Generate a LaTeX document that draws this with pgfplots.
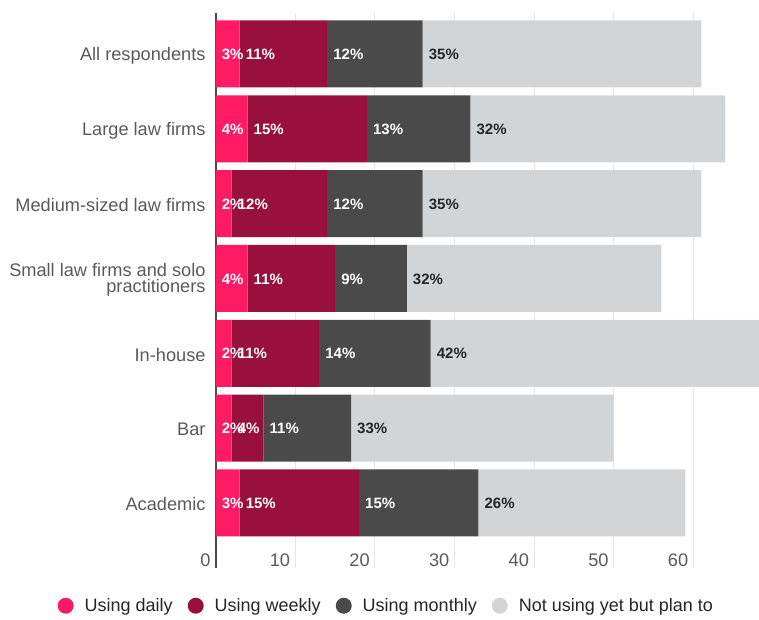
\documentclass[border=0pt]{standalone}
\usepackage{fontspec}
\setmainfont{Liberation Sans}
\usepackage{pgfplots}
\usepackage{pgfplotstable}
\pgfplotsset{compat=1.18}
\definecolor{cdaily}{HTML}{FF1A66}
\definecolor{cweekly}{HTML}{990F3D}
\definecolor{cmonthly}{HTML}{4A4A4A}
\definecolor{cnot}{HTML}{D3D4D6}
\definecolor{cgrid}{HTML}{E6E6E6}
\definecolor{ctext}{HTML}{5A5A5A}
\definecolor{clabel}{HTML}{262626}

% cat: 0 All respondents ... 6 Academic
% d,w,m,n = values; sd,sw,sm,sn = start of each segment
\pgfplotstableread{
cat d w m n sd sw sm sn
0 3 11 12 35 0 3 14 26
1 4 15 13 32 0 4 19 32
2 2 12 12 35 0 2 14 26
3 4 11 9 32 0 4 15 24
4 2 11 14 42 0 2 13 27
5 2 4 11 33 0 2 6 17
6 3 15 15 26 0 3 18 33
}\data

\pgfplotsset{base/.style={
  scale only axis, width=543.3pt, height=555pt,
  xmin=0, xmax=68.25, ymin=-0.548, ymax=6.87, y dir=reverse,
  at={(215.7pt,52pt)}, anchor=south west,
  /pgf/number format/assume math mode=true}}

\newcommand{\tickfont}{\fontsize{18.2}{16}\selectfont}
\newcommand{\legfont}{\fontsize{18}{18}\selectfont}
\newcommand{\barfont}{\fontsize{15}{15}\selectfont\bfseries}

\begin{document}
\begin{tikzpicture}
\useasboundingbox (0,0) rectangle (759pt,620pt);
\begin{axis}[base,
  xbar stacked, bar width=67pt,
  axis line style={draw=none},
  major tick length=0pt,
  xtick={10,20,...,60},
  extra x ticks={0},
  extra x tick style={grid style={draw=cmonthly, line width=2pt}},
  xmajorgrids, grid style={draw=cgrid, line width=1pt},
  ytick={0,...,6},
  yticklabels={All respondents, Large law firms, Medium-sized law firms, {Small law firms and solo\\practitioners}, In-house, Bar, Academic},
  yticklabel style={align=right, font=\tickfont, text=ctext, inner sep=0pt, xshift=-10pt, yshift=-1.5pt},
  xticklabel style={anchor=south east, font=\tickfont, text=ctext, inner sep=0pt, xshift=-5pt, yshift=1pt},
  legend columns=4,
  legend style={at={(0.314,-0.068)}, anchor=center, draw=none, font=\legfont, text=clabel,
    /tikz/every odd column/.append style={column sep=9pt},
    /tikz/every even column/.append style={column sep=13pt}},
]
\addplot[fill=cdaily, draw=none, legend image code/.code={\fill[cdaily] (0pt,0pt) circle (8pt);}] table[x=d, y=cat] {\data};
\addlegendentry{Using daily}
\addplot[fill=cweekly, draw=none, legend image code/.code={\fill[cweekly] (0pt,0pt) circle (8pt);}] table[x=w, y=cat] {\data};
\addlegendentry{Using weekly}
\addplot[fill=cmonthly, draw=none, legend image code/.code={\fill[cmonthly] (0pt,0pt) circle (8pt);}] table[x=m, y=cat] {\data};
\addlegendentry{Using monthly}
\addplot[fill=cnot, draw=none, legend image code/.code={\fill[cnot] (0pt,0pt) circle (8pt);}] table[x=n, y=cat] {\data};
\addlegendentry{Not using yet but plan to}
\end{axis}
\begin{axis}[base, hide axis, clip=false,
  nodes near coords={\pgfmathprintnumber{\pgfplotspointmeta}\%},
  point meta=explicit,
  every node near coord/.append style={anchor=west, inner sep=0pt, xshift=6pt, yshift=-0.5pt, font=\barfont}]
\addplot[only marks, mark=none, nodes near coords style={text=white}] table[x=sd, y=cat, meta=d] {\data};
\addplot[only marks, mark=none, nodes near coords style={text=white}] table[x=sw, y=cat, meta=w] {\data};
\addplot[only marks, mark=none, nodes near coords style={text=white}] table[x=sm, y=cat, meta=m] {\data};
\addplot[only marks, mark=none, nodes near coords style={text=clabel}] table[x=sn, y=cat, meta=n] {\data};
\end{axis}
\end{tikzpicture}
\end{document}
